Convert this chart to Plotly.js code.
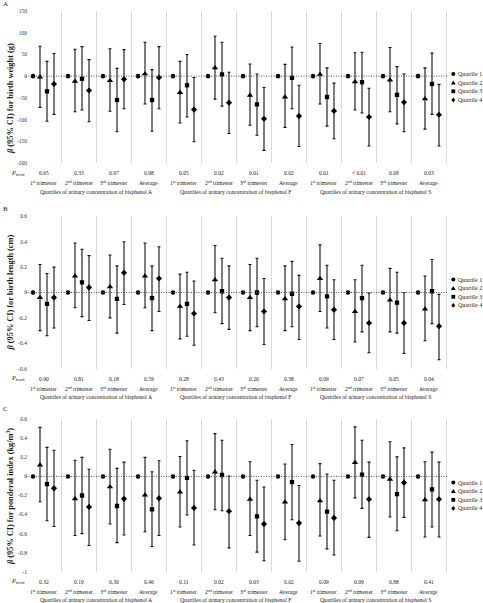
<!DOCTYPE html>
<html><head><meta charset="utf-8">
<script src="https://cdn.plot.ly/plotly-3.0.1.min.js"></script>
<style>html,body{margin:0;padding:0;background:#fff;}#chart{width:483px;height:603px;}</style>
</head><body><div id="chart"></div>
<script>
// ---------- categories ----------
const timepoints = ['1<sup>st</sup> trimester', '2<sup>nd</sup> trimester', '3<sup>rd</sup> trimester', 'Average'];
const chemicals = ['bisphenol A', 'bisphenol F', 'bisphenol S'];
const quartileNames = ['Quartile 1', 'Quartile 2', 'Quartile 3', 'Quartile 4'];

// ---------- panel A: birth weight (g) ----------
const weightQ1 = [0, 0, 0, 0, 0, 0, 0, 0, 0, 0, 0, 0];
const weightQ2 = [-2, -12, -10, 5, -38, 19, -44, -48, 4, -13, -9, -52];
const weightQ2Lo = [-72, -82, -81, -64, -108, -53, -113, -118, -64, -78, -82, -122];
const weightQ2Hi = [69, 62, 63, 78, 34, 92, 28, 27, 75, 54, 66, 19];
const weightQ3 = [-35, -6, -55, -55, -21, 4, -65, -4, -48, -14, -43, -18];
const weightQ3Lo = [-104, -78, -128, -127, -94, -69, -136, -75, -115, -85, -110, -88];
const weightQ3Hi = [34, 68, 18, 15, 50, 78, 5, 67, 19, 55, 22, 53];
const weightQ4 = [-18, -33, -7, -3, -77, -61, -98, -92, -80, -94, -60, -89];
const weightQ4Lo = [-88, -105, -75, -75, -151, -132, -171, -162, -144, -161, -128, -161];
const weightQ4Hi = [52, 38, 61, 68, -3, 9, -26, -21, -16, -28, 5, -19];
const weightPtrend = ['0.65', '0.33', '0.97', '0.98', '0.05', '0.02', '0.01', '0.02', '0.01', '< 0.01', '0.09', '0.03'];
const weightTickVals = [150, 100, 50, 0, -50, -100, -150, -200];
const weightTickText = ['150', '100', '50', '0', '-50', '-100', '-150', '-200'];

// ---------- panel B: birth length (cm) ----------
const lengthQ1 = [0, 0, 0, 0, 0, 0, 0, 0, 0, 0, 0, 0];
const lengthQ2 = [-0.04, 0.13, 0.045, 0.13, -0.11, 0.10, -0.04, -0.05, 0.11, -0.15, -0.06, -0.13];
const lengthQ2Lo = [-0.30, -0.12, -0.20, -0.12, -0.365, -0.16, -0.30, -0.30, -0.15, -0.39, -0.31, -0.38];
const lengthQ2Hi = [0.22, 0.39, 0.295, 0.39, 0.145, 0.37, 0.22, 0.21, 0.375, 0.10, 0.19, 0.13];
const lengthQ3 = [-0.09, 0.08, -0.05, -0.045, -0.09, 0.01, 0.0, -0.01, -0.03, -0.045, -0.08, 0.01];
const lengthQ3Lo = [-0.34, -0.19, -0.32, -0.30, -0.345, -0.245, -0.27, -0.27, -0.28, -0.31, -0.32, -0.245];
const lengthQ3Hi = [0.15, 0.34, 0.21, 0.21, 0.16, 0.27, 0.27, 0.245, 0.215, 0.215, 0.16, 0.26];
const lengthQ4 = [-0.04, 0.04, 0.155, 0.11, -0.165, -0.04, -0.15, -0.11, -0.135, -0.24, -0.24, -0.265];
const lengthQ4Lo = [-0.28, -0.22, -0.095, -0.15, -0.415, -0.29, -0.41, -0.37, -0.37, -0.475, -0.48, -0.53];
const lengthQ4Hi = [0.20, 0.29, 0.40, 0.36, 0.09, 0.21, 0.11, 0.135, 0.10, -0.005, 0.0, -0.015];
const lengthPtrend = ['0.90', '0.81', '0.18', '0.59', '0.28', '0.43', '0.20', '0.38', '0.09', '0.07', '0.05', '0.04'];
const lengthTickVals = [0.6, 0.4, 0.2, 0, -0.2, -0.4, -0.6];
const lengthTickText = ['0.6', '0.4', '0.2', '0', '-0.2', '-0.4', '-0.6'];

// ---------- panel C: ponderal index (kg/m3) ----------
const ponderalQ1 = [0, 0, 0, 0, 0, 0, 0, 0, 0, 0, 0, 0];
const ponderalQ2 = [0.12, -0.235, -0.11, -0.195, -0.165, 0.045, -0.24, -0.27, -0.255, 0.145, -0.03, -0.245];
const ponderalQ2Lo = [-0.265, -0.62, -0.50, -0.58, -0.53, -0.35, -0.62, -0.665, -0.625, -0.225, -0.425, -0.635];
const ponderalQ2Hi = [0.515, 0.17, 0.285, 0.20, 0.21, 0.45, 0.155, 0.13, 0.135, 0.52, 0.365, 0.155];
const ponderalQ3 = [-0.08, -0.20, -0.31, -0.345, -0.015, 0.015, -0.42, -0.06, -0.37, 0.02, -0.185, -0.135];
const ponderalQ3Lo = [-0.465, -0.60, -0.695, -0.735, -0.405, -0.36, -0.795, -0.455, -0.76, -0.335, -0.57, -0.53];
const ponderalQ3Hi = [0.305, 0.20, 0.085, 0.05, 0.375, 0.38, -0.04, 0.335, 0.025, 0.38, 0.205, 0.255];
const ponderalQ4 = [-0.125, -0.32, -0.235, -0.23, -0.33, -0.365, -0.50, -0.49, -0.435, -0.24, -0.065, -0.24];
const ponderalQ4Lo = [-0.525, -0.725, -0.615, -0.62, -0.72, -0.75, -0.885, -0.89, -0.825, -0.64, -0.43, -0.635];
const ponderalQ4Hi = [0.275, 0.075, 0.15, 0.165, 0.065, 0.005, -0.11, -0.095, -0.04, 0.15, 0.30, 0.15];
const ponderalPtrend = ['0.32', '0.19', '0.30', '0.46', '0.11', '0.02', '0.03', '0.02', '0.09', '0.09', '0.88', '0.41'];
const ponderalTickVals = [0.6, 0.4, 0.2, 0, -0.2, -0.4, -0.6, -0.8, -1];
const ponderalTickText = ['0.6', '0.4', '0.2', '0', '-0.2', '-0.4', '-0.6', '-0.8', '-1'];

// ---------- layout geometry ----------
const W = 483, H = 603, ML = 26, MR = 35;
const plotW = W - ML - MR;
const groupPx = 35;
const nGroups = chemicals.length * timepoints.length;
const xRange = [-0.5, -0.5 + plotW / groupPx];
const px2x = px => (px - ML) / plotW;
const py2y = py => 1 - py / H;
const SERIF = 'Liberation Serif, Times New Roman, serif';
const TXT = '#1a1a1a';
const SMALL = 5.5;

const panels = [
  { letter: 'A', title: '<b><i>β</i> (95% CI) for birth weight (g)</b>', range: [-200, 150], top: 11, bottom: 163, titleY: 99,
    q: [weightQ1, weightQ2, weightQ3, weightQ4], lo: [null, weightQ2Lo, weightQ3Lo, weightQ4Lo], hi: [null, weightQ2Hi, weightQ3Hi, weightQ4Hi],
    p: weightPtrend, tv: weightTickVals, tt: weightTickText, letterY: 4 },
  { letter: 'B', title: '<b><i>β</i> (95% CI) for birth length (cm)</b>', range: [-0.6, 0.6], top: 216.3, bottom: 368.7, titleY: 292.5,
    q: [lengthQ1, lengthQ2, lengthQ3, lengthQ4], lo: [null, lengthQ2Lo, lengthQ3Lo, lengthQ4Lo], hi: [null, lengthQ2Hi, lengthQ3Hi, lengthQ4Hi],
    p: lengthPtrend, tv: lengthTickVals, tt: lengthTickText, letterY: 209 },
  { letter: 'C', title: '<b><i>β</i> (95% CI) for ponderal index (kg/m<sup>3</sup>)</b>', range: [-1, 0.6], top: 419.3, bottom: 571.7, titleY: 497,
    q: [ponderalQ1, ponderalQ2, ponderalQ3, ponderalQ4], lo: [null, ponderalQ2Lo, ponderalQ3Lo, ponderalQ4Lo], hi: [null, ponderalQ2Hi, ponderalQ3Hi, ponderalQ4Hi],
    p: ponderalPtrend, tv: ponderalTickVals, tt: ponderalTickText, letterY: 409 }
];

const symbols = ['circle', 'triangle-up', 'square', 'diamond'];
const sizes = [4.6, 5.6, 4.3, 4.7];
const offsets = [-0.3, -0.1, 0.1, 0.3];
const groupIdx = Array.from({ length: nGroups }, (_, i) => i);
const boundaries = Array.from({ length: nGroups }, (_, i) => i + 0.5);

const data = [];
const layout = {
  width: W, height: H, showlegend: false,
  margin: { l: ML, r: MR, t: 0, b: 0, autoexpand: false },
  paper_bgcolor: '#fff', plot_bgcolor: '#fff',
  font: { family: SERIF, color: TXT, size: SMALL },
  annotations: [], shapes: []
};

panels.forEach((P, pi) => {
  const sfx = pi === 0 ? '' : String(pi + 1);
  const xa = 'x' + sfx, ya = 'y' + sfx;
  layout['xaxis' + sfx] = {
    domain: [0, 1], range: xRange, anchor: ya, tickmode: 'array', tickvals: boundaries,
    showticklabels: false, ticks: '', showgrid: true, gridcolor: '#d9d9d9', gridwidth: 1,
    zeroline: false, showline: false, fixedrange: true
  };
  layout['yaxis' + sfx] = {
    domain: [py2y(P.bottom), py2y(P.top)], range: P.range, anchor: xa,
    tickmode: 'array', tickvals: P.tv, ticktext: P.tt, ticks: '', ticklabelstandoff: -2,
    tickfont: { size: SMALL, family: SERIF, color: '#333' },
    showgrid: false, zeroline: false, showline: false, fixedrange: true
  };
  // dotted zero reference line
  layout.shapes.push({ type: 'line', xref: xa + ' domain', x0: 0, x1: 1, yref: ya, y0: 0, y1: 0,
    line: { color: '#555', width: 1, dash: '1px,1.5px' } });

  P.q.forEach((vals, qi) => {
    const tr = {
      type: 'scatter', mode: 'markers', xaxis: xa, yaxis: ya, name: quartileNames[qi],
      x: groupIdx.map(i => i + offsets[qi]), y: vals,
      marker: { symbol: symbols[qi], size: sizes[qi], color: '#000', line: { width: 0 } },
      hoverinfo: 'skip'
    };
    if (P.lo[qi]) {
      tr.error_y = {
        type: 'data', symmetric: false,
        array: vals.map((v, i) => P.hi[qi][i] - v),
        arrayminus: vals.map((v, i) => v - P.lo[qi][i]),
        color: '#111', thickness: 1.1, width: 1.5
      };
    }
    data.push(tr);
  });

  // panel letter
  layout.annotations.push({ xref: 'paper', yref: 'paper', x: px2x(1), y: py2y(P.letterY), xanchor: 'left', yanchor: 'middle',
    text: P.letter, showarrow: false, font: { size: 7, family: SERIF, color: TXT } });
  // y title
  layout.annotations.push({ xref: 'paper', yref: 'paper', x: px2x(10), y: py2y(P.titleY), xanchor: 'center', yanchor: 'middle',
    text: P.title, textangle: -90, showarrow: false, font: { size: 8.3, family: SERIF, color: TXT } });
  // p-trend label
  layout.annotations.push({ xref: 'paper', yref: ya + ' domain', x: px2x(9), y: 0, yshift: -10, xanchor: 'left', yanchor: 'middle',
    text: '<i>P</i><sub>trend</sub>', showarrow: false, font: { size: 6, family: SERIF, color: TXT } });
  groupIdx.forEach(i => {
    layout.annotations.push({ xref: xa, yref: ya + ' domain', x: i, y: 0, yshift: -10, xanchor: 'center', yanchor: 'middle',
      text: P.p[i], showarrow: false, font: { size: SMALL, family: SERIF, color: TXT } });
    layout.annotations.push({ xref: xa, yref: ya + ' domain', x: i, y: 0, yshift: -20, xanchor: 'center', yanchor: 'middle',
      text: timepoints[i % timepoints.length], showarrow: false, font: { size: 5.6, family: SERIF, color: TXT } });
  });
  chemicals.forEach((c, ci) => {
    layout.annotations.push({ xref: xa, yref: ya + ' domain', x: ci * timepoints.length + (timepoints.length - 1) / 2, y: 0, yshift: -28.5,
      xanchor: 'center', yanchor: 'middle', text: 'Quartiles of urinary concentration of ' + c, showarrow: false,
      font: { size: 5.7, family: SERIF, color: TXT } });
  });

  // legend (manual, to fit the narrow right margin)
  const mid = (P.top + P.bottom) / 2;
  const keyPaths = [
    null,
    'M -2.4 -1.7 L 2.4 -1.7 L 0 2.3 Z',
    'M -1.9 -1.9 L 1.9 -1.9 L 1.9 1.9 L -1.9 1.9 Z',
    'M 0 2.4 L 2 0 L 0 -2.4 L -2 0 Z'
  ];
  quartileNames.forEach((nm, qi) => {
    const ry = mid + (qi - 1.5) * 8.6;
    const ax = px2x(453.3), ay = py2y(ry);
    if (qi === 0) {
      layout.shapes.push({ type: 'circle', xref: 'paper', yref: 'paper', xsizemode: 'pixel', ysizemode: 'pixel',
        xanchor: ax, yanchor: ay, x0: -2, x1: 2, y0: -2, y1: 2, fillcolor: '#000', line: { width: 0 } });
    } else {
      layout.shapes.push({ type: 'path', xref: 'paper', yref: 'paper', xsizemode: 'pixel', ysizemode: 'pixel',
        xanchor: ax, yanchor: ay, path: keyPaths[qi], fillcolor: '#000', line: { width: 0 } });
    }
    layout.annotations.push({ xref: 'paper', yref: 'paper', x: px2x(456), y: ay, xanchor: 'left', yanchor: 'middle',
      text: nm, showarrow: false, font: { size: 6, family: SERIF, color: TXT } });
  });
});

Plotly.newPlot('chart', data, layout, { displayModeBar: false, staticPlot: true });
</script></body></html>
